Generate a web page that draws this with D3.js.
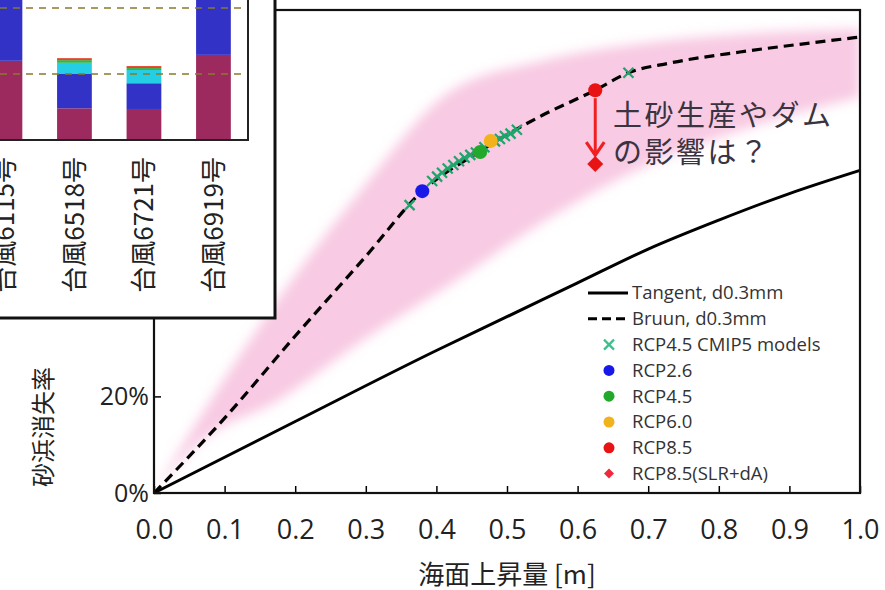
<!DOCTYPE html>
<html lang="ja">
<head>
  <meta charset="UTF-8">
  <title>砂浜消失率</title>
  <script src="https://d3js.org/d3.v7.min.js"></script>
  <style>
    body { margin: 0; background: #fff; }
    text { font-family: "Open Sans", "Noto Sans CJK JP", sans-serif; fill: #222; }
  </style>
</head>
<body>
  <div id="chart"></div>
  <script>

    // ---- main chart data (sea level rise [m] vs beach loss [%]) ----
    var xTicks = [0, 0.1, 0.2, 0.3, 0.4, 0.5, 0.6, 0.7, 0.8, 0.9, 1.0];
    var yTicks = [0, 20, 40, 60, 80, 100];

    var bruunX = [0, 0.1, 0.2, 0.3, 0.38, 0.46, 0.5, 0.55, 0.625, 0.672, 0.73, 0.83, 0.92, 1.0];
    var bruunY = [0, 15.5, 32.5, 49, 62.5, 70.6, 74.2, 78.2, 83.4, 87.0, 89.0, 91.3, 93.0, 94.4];

    var tangentX = [0, 0.2, 0.4, 0.5, 0.6, 0.7, 0.8, 0.9, 1.0];
    var tangentY = [0, 14.8, 29.5, 36.5, 43.5, 50.5, 56.5, 62, 66.8];

    var bandX = [0, 0.065, 0.174, 0.3, 0.418, 0.55, 0.686, 0.85, 1.0];
    var bandUpper = [0, 15.7, 39.8, 64, 83, 89.5, 93, 95.2, 96];
    var bandLower = [0, 10.5, 19, 32, 43, 56, 67, 76, 82];

    var cmipX = [0.362, 0.394, 0.401, 0.408, 0.416, 0.424, 0.432, 0.44, 0.448, 0.456, 0.468, 0.483, 0.49, 0.497, 0.505, 0.514, 0.672];
    var cmipY = [59.6, 64.6, 65.5, 66.3, 67.2, 67.9, 68.7, 69.4, 70.0, 70.5, 71.6, 72.8, 73.3, 73.9, 74.4, 75.2, 87.0];

    var rcpNames = ["RCP2.6", "RCP4.5", "RCP6.0", "RCP8.5"];
    var rcpX = [0.38, 0.462, 0.477, 0.625];
    var rcpY = [62.5, 70.6, 72.9, 83.4];
    var rcpColors = ["#1818e8", "#22a82a", "#f2b21c", "#e81414"];

    var slrDaX = [0.625];
    var slrDaY = [68.1];

    var legendLabels = ["Tangent, d0.3mm", "Bruun, d0.3mm", "RCP4.5 CMIP5 models",
      "RCP2.6", "RCP4.5", "RCP6.0", "RCP8.5", "RCP8.5(SLR+dA)"];

    // ---- inset bar chart data ----
    var typhoons = ["台風6115号", "台風6518号", "台風6721号", "台風6919号"];
    var segKeys = ["s1", "s2", "s3", "s4", "s5"];
    var segColors = ["#9c2a5e", "#3232c6", "#24cfe6", "#2cb84a", "#e8402a"];
    var seg1 = [1.20, 0.48, 0.47, 1.29];
    var seg2 = [1.30, 0.52, 0.39, 1.30];
    var seg3 = [0, 0.17, 0.20, 0];
    var seg4 = [0, 0.04, 0.03, 0];
    var seg5 = [0, 0.03, 0.03, 0];
    var refLevels = [1, 2];

    var W = 885, H = 590;
    var svg = d3.select("#chart").append("svg")
      .attr("width", W).attr("height", H);

    var defs = svg.append("defs");
    defs.append("filter").attr("id", "soft")
      .attr("x", "-10%").attr("y", "-10%").attr("width", "120%").attr("height", "120%")
      .append("feGaussianBlur").attr("stdDeviation", 6);
    defs.append("clipPath").attr("id", "plotclip")
      .append("rect").attr("x", 154).attr("y", 10).attr("width", 706).attr("height", 483);

    var x = d3.scaleLinear().domain([0, 1]).range([154, 860]);
    var y = d3.scaleLinear().domain([0, 100]).range([493, 10]);

    // pink band
    var band = bandX.map(function (d, i) { return { x: d, lo: bandLower[i], hi: bandUpper[i] }; });
    svg.append("g").attr("clip-path", "url(#plotclip)")
      .append("path")
      .datum(band)
      .attr("d", d3.area()
        .x(function (d) { return x(d.x); })
        .y0(function (d) { return y(d.lo); })
        .y1(function (d) { return y(d.hi); })
        .curve(d3.curveMonotoneX))
      .attr("fill", "#f8cae3")
      .attr("filter", "url(#soft)");

    var line = d3.line()
      .x(function (d) { return x(d[0]); })
      .y(function (d) { return y(d[1]); })
      .curve(d3.curveMonotoneX);

    svg.append("path")
      .datum(d3.zip(tangentX, tangentY))
      .attr("d", line)
      .attr("fill", "none").attr("stroke", "#000").attr("stroke-width", 3);

    svg.append("path")
      .datum(d3.zip(bruunX, bruunY))
      .attr("d", line)
      .attr("fill", "none").attr("stroke", "#000").attr("stroke-width", 3.2)
      .attr("stroke-dasharray", "10,6");

    // CMIP5 crosses
    svg.append("g").selectAll("path")
      .data(d3.zip(cmipX, cmipY))
      .enter().append("path")
      .attr("d", "M-5,-5L5,5M-5,5L5,-5")
      .attr("transform", function (d) { return "translate(" + x(d[0]) + "," + y(d[1]) + ")"; })
      .attr("stroke", "#1fa56c").attr("stroke-width", 2.2);

    // arrow from RCP8.5 to SLR+dA
    svg.append("line")
      .attr("x1", x(rcpX[3])).attr("x2", x(rcpX[3]))
      .attr("y1", y(rcpY[3]) + 8).attr("y2", y(slrDaY[0]) - 10)
      .attr("stroke", "#f02020").attr("stroke-width", 3);
    svg.append("path")
      .attr("d", "M-9,-22L0,-9L9,-22")
      .attr("transform", "translate(" + x(rcpX[3]) + "," + y(slrDaY[0]) + ")")
      .attr("fill", "none").attr("stroke", "#f02020").attr("stroke-width", 3.2);

    // RCP dots
    svg.append("g").selectAll("circle")
      .data(rcpX)
      .enter().append("circle")
      .attr("cx", function (d) { return x(d); })
      .attr("cy", function (d, i) { return y(rcpY[i]); })
      .attr("r", 7)
      .attr("fill", function (d, i) { return rcpColors[i]; });

    svg.append("g").selectAll("path")
      .data(slrDaX)
      .enter().append("path")
      .attr("d", "M0,-8L8,0L0,8L-8,0Z")
      .attr("transform", function (d, i) { return "translate(" + x(d) + "," + y(slrDaY[i]) + ")"; })
      .attr("fill", "#e81414");

    // annotation
    var note = svg.append("text")
      .style("font-family", "'Noto Sans CJK JP'").style("font-size", "29px")
      .style("letter-spacing", "2.5px").style("fill", "#3a3340");
    note.append("tspan").attr("x", 613).attr("y", 126).text("土砂生産やダム");
    note.append("tspan").attr("x", 613).attr("y", 163).text("の影響は？");

    // axes
    var xAxis = svg.append("g").attr("transform", "translate(0,493)")
      .call(d3.axisBottom(x).tickValues(xTicks).tickFormat(d3.format(".1f"))
        .tickSizeInner(-7).tickSizeOuter(0).tickPadding(27));
    xAxis.select(".domain").remove();
    xAxis.selectAll("line").attr("stroke", "#000").attr("stroke-width", 1.5);
    xAxis.selectAll("text").style("font-size", "27px").style("fill", "#222");

    var yAxis = svg.append("g").attr("transform", "translate(154,0)")
      .call(d3.axisLeft(y).tickValues(yTicks).tickFormat(function (d) { return d + "%"; })
        .tickSizeInner(-7).tickSizeOuter(0).tickPadding(5));
    yAxis.select(".domain").remove();
    yAxis.selectAll("line").attr("stroke", "#000").attr("stroke-width", 1.5);
    yAxis.selectAll("text").style("font-size", "25px").style("fill", "#222");

    svg.append("rect")
      .attr("x", 154).attr("y", 10).attr("width", 706).attr("height", 483)
      .attr("fill", "none").attr("stroke", "#111").attr("stroke-width", 2.2);

    svg.append("text").attr("x", 507).attr("y", 584)
      .attr("text-anchor", "middle")
      .style("font-family", "'Noto Sans CJK JP'").style("font-size", "26px")
      .text("海面上昇量 [m]");

    svg.append("text")
      .attr("transform", "translate(52,427) rotate(-90)")
      .attr("text-anchor", "middle")
      .style("font-family", "'Noto Sans CJK JP'").style("font-size", "24px")
      .text("砂浜消失率");

    // legend
    var lg = svg.append("g").attr("transform", "translate(588,293)");
    var rowH = 25.8;
    legendLabels.forEach(function (lab, i) {
      var row = lg.append("g").attr("transform", "translate(0," + (i * rowH) + ")");
      if (i === 0) {
        row.append("line").attr("x1", 0).attr("x2", 40).attr("stroke", "#000").attr("stroke-width", 3);
      } else if (i === 1) {
        row.append("line").attr("x1", 0).attr("x2", 40).attr("stroke", "#000").attr("stroke-width", 3)
          .attr("stroke-dasharray", "9,5");
      } else if (i === 2) {
        row.append("path").attr("d", "M16,-5L26,5M16,5L26,-5")
          .attr("stroke", "#3cbf8c").attr("stroke-width", 2.2);
      } else if (i < 7) {
        row.append("circle").attr("cx", 21).attr("r", 5.5).attr("fill", rcpColors[i - 3]);
      } else {
        row.append("path").attr("d", "M21,-5L26,0L21,5L16,0Z").attr("fill", "#f0283c");
      }
      row.append("text").attr("x", 44).attr("dy", "0.35em")
        .style("font-size", "18.5px").style("fill", "#333").text(lab);
    });

    // ---- inset bar chart ----
    var inset = svg.append("g");
    inset.append("rect").attr("x", -5).attr("y", -5).attr("width", 280).attr("height", 323)
      .attr("fill", "#fff").attr("stroke", "#111").attr("stroke-width", 3);

    var xi = d3.scaleBand().domain(typhoons).range([-29.8, 248.2])
      .paddingInner(0.5).paddingOuter(0.25);
    var yi = d3.scaleLinear().domain([0, 2]).range([140, 8]);

    var rows = typhoons.map(function (t, i) {
      return { name: t, s1: seg1[i], s2: seg2[i], s3: seg3[i], s4: seg4[i], s5: seg5[i] };
    });
    var stacked = d3.stack().keys(segKeys)(rows);

    inset.append("g").selectAll("g")
      .data(stacked)
      .enter().append("g")
      .attr("fill", function (d, i) { return segColors[i]; })
      .selectAll("rect")
      .data(function (d) { return d; })
      .enter().append("rect")
      .attr("x", function (d) { return xi(d.data.name); })
      .attr("width", xi.bandwidth())
      .attr("y", function (d) { return yi(d[1]); })
      .attr("height", function (d) { return yi(d[0]) - yi(d[1]); });

    inset.append("g").selectAll("line")
      .data(refLevels)
      .enter().append("line")
      .attr("x1", 0).attr("x2", 248)
      .attr("y1", function (d) { return yi(d); }).attr("y2", function (d) { return yi(d); })
      .attr("stroke", "#8a7a2a").attr("stroke-width", 1.5).attr("stroke-dasharray", "7,6");

    inset.append("path")
      .attr("d", "M-5," + yi(0) + "H248V-5")
      .attr("fill", "none").attr("stroke", "#222").attr("stroke-width", 2);

    inset.append("g").selectAll("text")
      .data(typhoons)
      .enter().append("text")
      .attr("transform", function (d) {
        return "translate(" + (xi(d) + xi.bandwidth() / 2) + ",157) rotate(-90)";
      })
      .attr("text-anchor", "end")
      .attr("dy", "0.36em")
      .style("font-family", "'Noto Sans CJK JP'").style("font-size", "26px")
      .style("fill", "#222")
      .text(function (d) { return d; });

  </script>
</body>
</html>
